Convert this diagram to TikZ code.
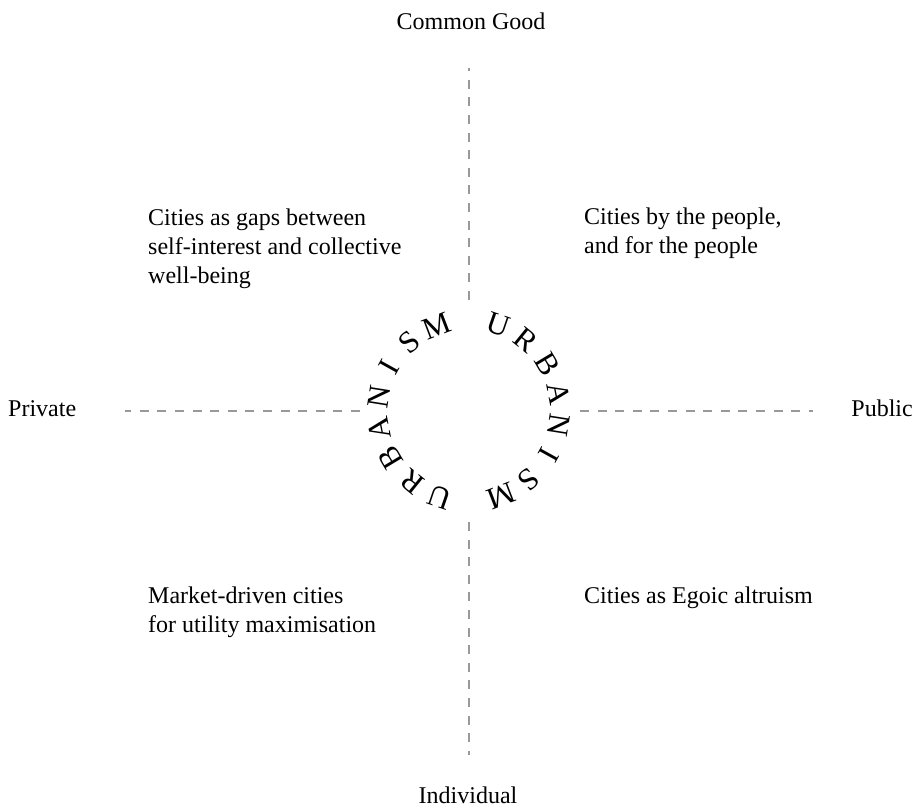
\documentclass[tikz,border=0pt]{standalone}
\usepackage{fontspec}
\setmainfont{Liberation Serif}
\usetikzlibrary{calc}
\begin{document}
\begin{tikzpicture}[x=1pt,y=1pt,
  axis/.style={draw=black!40, line width=1.4pt, dash pattern=on 9pt off 8.6pt},
  lbl/.style={inner sep=0pt, font=\fontsize{24}{29}\selectfont},
  quad/.style={inner sep=0pt, align=left, anchor=base west, font=\fontsize{24}{29}\selectfont},
  arcletter/.style={inner sep=0pt, font=\fontsize{31}{31}\selectfont}]
\useasboundingbox (0,0) rectangle (914,-809);
\coordinate (C) at (469,-411);
% axis end points
\coordinate (tIn) at ($(C)+(0,111)$);  \coordinate (tOut) at ($(C)+(0,343)$);
\coordinate (bIn) at ($(C)+(0,-111)$); \coordinate (bOut) at ($(C)+(0,-344)$);
\coordinate (lIn) at ($(C)+(-109,0)$); \coordinate (lOut) at ($(C)+(-344,0)$);
\coordinate (rIn) at ($(C)+(111,0)$);  \coordinate (rOut) at ($(C)+(344,0)$);
\draw[axis] (tIn) -- (tOut);
\draw[axis] (bIn) -- (bOut);
\draw[axis] (lIn) -- (lOut);
\draw[axis] (rIn) -- (rOut);
% axis labels
\node[lbl, anchor=base] (common) at (471,-29) {Common Good};
\node[lbl, anchor=base] (indiv) at (468,-803) {Individual};
\node[lbl, anchor=base west] (private) at (8,-416) {Private};
\node[lbl, anchor=base east] (public) at (913,-416) {Public};
% quadrant texts (base anchor = last line)
\node[quad] (q1) at (148,-283) {Cities as gaps between\\self-interest and collective\\well-being};
\node[quad] (q2) at (584,-253) {Cities by the people,\\and for the people};
\node[quad] (q3) at (148,-632) {Market-driven cities\\for utility maximisation};
\node[quad] (q4) at (584,-603) {Cities as Egoic altruism};
% circular URBANISM
\foreach \l [count=\i from 0] in {U,R,B,A,N,I,S,M} {
  \pgfmathsetmacro\ang{71-20*\i}
  \node[arcletter, rotate=\ang-90] (r\i) at ($(C)+(\ang:91)$) {\l};
  \pgfmathsetmacro\angb{-109-20*\i}
  \node[arcletter, rotate=\angb-90] (l\i) at ($(C)+(\angb:91)$) {\l};
}
\end{tikzpicture}
\end{document}
